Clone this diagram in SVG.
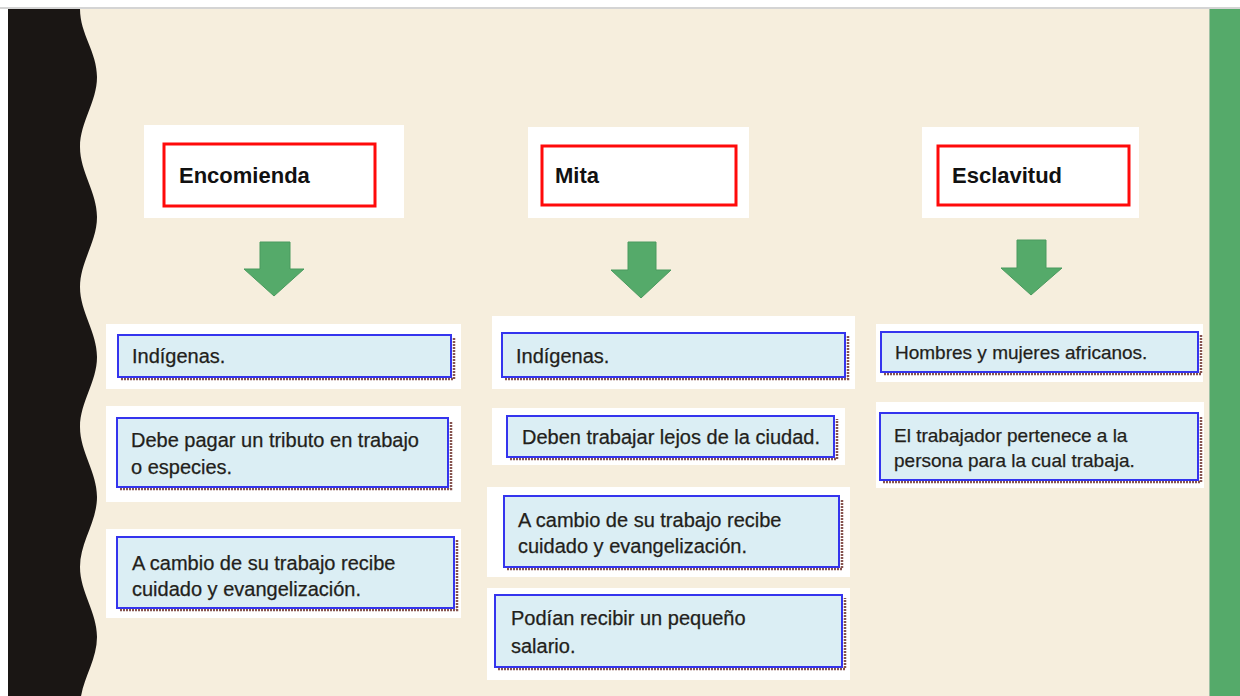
<svg xmlns="http://www.w3.org/2000/svg" width="1240" height="696" viewBox="0 0 1240 696">
<style>
.pad{fill:#ffffff}
.title{fill:#ffffff;stroke:#ff0a0a;stroke-width:3}
.ttxt{font-family:"Liberation Sans",Arial,sans-serif;font-weight:bold;font-size:22px;fill:#111111}
.item{fill:#dbeef4;stroke:#3434ee;stroke-width:2}
.shadow{fill:none;stroke:#86544f;stroke-width:2.5;stroke-dasharray:2 1}
.itxt{font-family:"Liberation Sans",Arial,sans-serif;font-size:20px;fill:#231f1b;stroke:#231f1b;stroke-width:0.25}
.stxt{font-family:"Liberation Sans",Arial,sans-serif;font-size:19px;fill:#231f1b;stroke:#231f1b;stroke-width:0.25}
.arrow{fill:#55aa6a;stroke:#4a9a5e;stroke-width:1}
</style>
<rect x="0" y="0" width="1240" height="696" fill="#ffffff"/>
<rect x="8" y="9" width="1202" height="687" fill="#f6eedd"/>
<rect x="0" y="7" width="1240" height="2" fill="#d4d4d4"/>
<rect x="1210" y="9" width="30" height="687" fill="#55aa6a"/>
<rect x="1209" y="9" width="1" height="687" fill="#9fc2a5"/>
<path d="M8,9 H80 C80,34 97,52 97,77 C97,102 80,122 80,147 C80,172 97,192 97,217 C97,242 80,262 80,287 C80,312 97,332 97,357 C97,382 80,402 80,427 C80,452 97,472 97,497 C97,522 80,542 80,567 C80,592 97,612 97,637 C97,662 80,682 80,707 H8 Z" fill="#1a1614"/>

<g id="encomienda">
<rect class="pad" x="144" y="125" width="260" height="93"/>
<rect class="title" x="164" y="144" width="211" height="62"/>
<text class="ttxt" x="179" y="183">Encomienda</text>
</g>
<g id="mita">
<rect class="pad" x="528" y="127" width="221" height="91"/>
<rect class="title" x="542" y="146" width="194" height="59"/>
<text class="ttxt" x="555" y="183">Mita</text>
</g>
<g id="esclavitud">
<rect class="pad" x="922" y="127" width="217" height="91"/>
<rect class="title" x="938" y="146" width="191" height="59"/>
<text class="ttxt" x="952" y="183">Esclavitud</text>
</g>

<g id="connectors">
<polygon class="arrow" points="260,242 290,242 290,269 304,269 274,296 244,269 260,269"/>
<polygon class="arrow" points="628,242 656,242 656,270 671,270 641,298 611,270 628,270"/>
<polygon class="arrow" points="1017,240 1046,240 1046,268 1062,268 1031,295 1001,268 1017,268"/>
</g>

<g id="enc-1">
<rect class="pad" x="106" y="324" width="355" height="65"/>
<path class="shadow" d="M121,379 H454 V338"/>
<rect class="item" x="118" y="335" width="333" height="42"/>
<text class="itxt" x="132" y="363">Indígenas.</text>
</g>
<g id="enc-2">
<rect class="pad" x="106" y="406" width="355" height="96"/>
<path class="shadow" d="M120,489 H451 V421"/>
<rect class="item" x="117" y="418" width="331" height="69"/>
<text class="itxt" x="131" y="447">Debe pagar un tributo en trabajo</text>
<text class="itxt" x="131" y="474">o especies.</text>
</g>
<g id="enc-3">
<rect class="pad" x="106" y="529" width="355" height="89"/>
<path class="shadow" d="M120,610 H457 V540"/>
<rect class="item" x="117" y="537" width="337" height="71"/>
<text class="itxt" x="132" y="570">A cambio de su trabajo recibe</text>
<text class="itxt" x="132" y="596">cuidado y evangelización.</text>
</g>

<g id="mita-1">
<rect class="pad" x="492" y="316" width="363" height="73"/>
<path class="shadow" d="M505,379 H848 V336"/>
<rect class="item" x="502" y="333" width="343" height="44"/>
<text class="itxt" x="516" y="363">Indígenas.</text>
</g>
<g id="mita-2">
<rect class="pad" x="492" y="408" width="353" height="57"/>
<path class="shadow" d="M510,459 H837 V419"/>
<rect class="item" x="507" y="416" width="327" height="41"/>
<text class="itxt" x="522" y="444">Deben trabajar lejos de la ciudad.</text>
</g>
<g id="mita-3">
<rect class="pad" x="487" y="487" width="363" height="90"/>
<path class="shadow" d="M507,569 H842 V499"/>
<rect class="item" x="504" y="496" width="335" height="71"/>
<text class="itxt" x="518" y="527">A cambio de su trabajo recibe</text>
<text class="itxt" x="518" y="553">cuidado y evangelización.</text>
</g>
<g id="mita-4">
<rect class="pad" x="487" y="588" width="363" height="92"/>
<path class="shadow" d="M498,669 H845 V598"/>
<rect class="item" x="495" y="595" width="347" height="72"/>
<text class="itxt" x="511" y="625">Podían recibir un pequeño</text>
<text class="itxt" x="511" y="653">salario.</text>
</g>

<g id="escl-1">
<rect class="pad" x="876" y="324" width="327" height="58"/>
<path class="shadow" d="M884,374 H1201 V335"/>
<rect class="item" x="881" y="332" width="317" height="40"/>
<text class="stxt" x="895" y="359">Hombres y mujeres africanos.</text>
</g>
<g id="escl-2">
<rect class="pad" x="876" y="402" width="328" height="86"/>
<path class="shadow" d="M883,482 H1201 V416"/>
<rect class="item" x="880" y="413" width="318" height="67"/>
<text class="stxt" x="894" y="442">El trabajador pertenece a la</text>
<text class="stxt" x="894" y="467">persona para la cual trabaja.</text>
</g>
</svg>
